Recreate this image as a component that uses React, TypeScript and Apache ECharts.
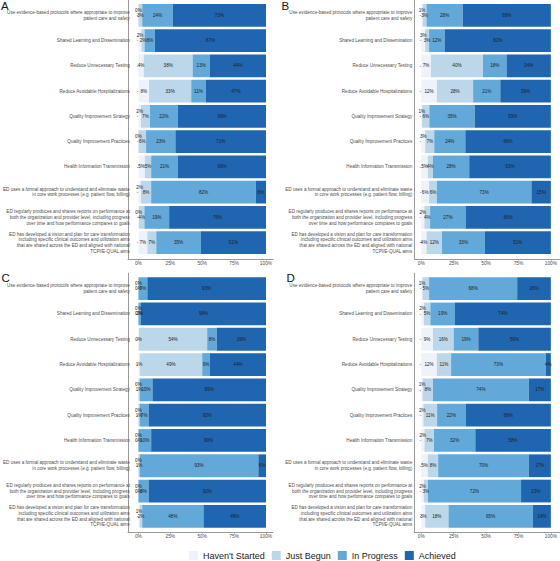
import React, { useEffect, useRef } from "react";
import * as echarts from "echarts";

const CATEGORIES = [
  "Use evidence-based protocols where appropriate to improve\npatient care and safety",
  "Shared Learning and Dissemination",
  "Reduce Unnecessary Testing",
  "Reduce Avoidable Hospitalizations",
  "Quality Improvement Strategy",
  "Quality Improvement Practices",
  "Health Information Transmission",
  "ED uses a formal approach to understand and eliminate waste\nin core work processes (e.g. patient flow, billing)",
  "ED regularly produces and shares reports on performance at\nboth the organization and provider level, including progress\nover time and how performance compares to goals",
  "ED has developed a vision and plan for care transformation\nincluding specific clinical outcomes and utilization aims\nthat are shared across the ED and aligned with national\nTCPI/E-QUAL aims",
];

const SERIES_NAMES = ["Haven't Started", "Just Begun", "In Progress", "Achieved"];
const PANEL_LETTERS = ["A", "B", "C", "D"];
const X_TICKS = [0, 25, 50, 75, 100];

const A_HAVENT = [0, 2.4, 4.2, 8.3, 2, 0, 5, 2, 0.4, 7];
const A_JUST = [3, 2.4, 38.3, 33.1, 7, 6, 5, 8, 4.3, 7];
const A_PROGRESS = [24, 8.1, 13.4, 11.4, 22, 23, 21, 82, 19.4, 35];
const A_ACHIEVED = [73, 87.1, 44.1, 47.2, 69, 71, 69, 8, 75.9, 51];

const B_HAVENT = [1, 3, 7.4, 12, 0.6, 3, 5, 6, 2.4, 4];
const B_JUST = [3, 3, 40.2, 28, 5.6, 7, 4, 6, 4.4, 12];
const B_PROGRESS = [28, 12, 18.2, 21, 35.1, 24, 28, 73, 27.4, 33];
const B_ACHIEVED = [68, 82, 34.2, 39, 58.7, 66, 63, 15, 65.8, 51];

const C_HAVENT = [0, 0, 0.3, 1, 0, 0, 0, 0, 0, 1];
const C_JUST = [0, 0, 53.6, 49, 1, 1, 0, 1, 0, 2];
const C_PROGRESS = [7, 2, 7.6, 6, 10, 7, 10, 93, 8, 48];
const C_ACHIEVED = [93, 98, 38.5, 44, 89, 92, 90, 6, 92, 49];

const D_HAVENT = [1, 2, 9, 12, 1, 1.6, 2.4, 5, 2, 3];
const D_JUST = [5, 5, 16, 11, 8, 10.6, 7.4, 8, 3, 18];
const D_PROGRESS = [68, 19, 19, 73, 74, 22, 31.9, 70, 72, 65];
const D_ACHIEVED = [26, 74, 56, 4, 17, 65.8, 58.3, 17, 23, 14];

const PANEL_VALUES = [
  [A_HAVENT, A_JUST, A_PROGRESS, A_ACHIEVED],
  [B_HAVENT, B_JUST, B_PROGRESS, B_ACHIEVED],
  [C_HAVENT, C_JUST, C_PROGRESS, C_ACHIEVED],
  [D_HAVENT, D_JUST, D_PROGRESS, D_ACHIEVED],
];

const COLORS = ["#eef3fb", "#bdd7ea", "#62a8d8", "#1f65b0"];
const FONT = "Liberation Sans, Arial, Helvetica, sans-serif";

const LAYOUT = [
  {
    bar: { left: 134, top: 2.7, width: 132, height: 252.6 },
    frame: { left: 128, top: 0, width: 145, height: 259.3 },
    yOff: 6, xOff: 4, letter: { x: 1, y: -0.5 },
  },
  {
    bar: { left: 421.3, top: 2.7, width: 132, height: 252.6 },
    frame: { left: 414.7, top: 0, width: 145.3, height: 259.3 },
    yOff: 6.6, xOff: 4, letter: { x: 281.5, y: -0.5 },
  },
  {
    bar: { left: 134, top: 276, width: 132, height: 253 },
    frame: { left: 128, top: 273.3, width: 145, height: 259.2 },
    yOff: 6, xOff: 3.5, letter: { x: 1.5, y: 272 },
  },
  {
    bar: { left: 421.3, top: 276, width: 132, height: 253 },
    frame: { left: 414.7, top: 273.3, width: 145.3, height: 259.2 },
    yOff: 6.6, xOff: 3.5, letter: { x: 286.5, y: 272 },
  },
];

export default function App() {
  const ref = useRef<HTMLDivElement>(null);

  useEffect(() => {
    const chart = echarts.init(ref.current!, null, { renderer: "svg" });

    const grids: any[] = [];
    const xAxes: any[] = [];
    const yAxes: any[] = [];
    const series: any[] = [];

    LAYOUT.forEach((l) => {
      grids.push({ ...l.bar, containLabel: false });
    });
    LAYOUT.forEach((l) => {
      grids.push({ ...l.frame, containLabel: false });
    });

    LAYOUT.forEach((l, p) => {
      xAxes.push({
        type: "value",
        gridIndex: p,
        min: 0,
        max: 100,
        interval: 25,
        position: "bottom",
        offset: l.xOff,
        axisLine: { show: false, onZero: false },
        axisTick: { show: true, length: 1.5, lineStyle: { color: "#8c8c8c", width: 0.6 } },
        axisLabel: {
          show: true,
          formatter: (v: number) => (X_TICKS.includes(v) ? v + "%" : ""),
          fontSize: 4.8,
          color: "#4d4d4d",
          margin: 1.5,
          fontFamily: FONT,
        },
        splitLine: { show: false },
      });
      yAxes.push({
        type: "category",
        gridIndex: p,
        data: CATEGORIES,
        inverse: true,
        position: "left",
        offset: l.yOff,
        axisLine: { show: false },
        axisTick: { show: true, alignWithLabel: true, length: 1.5, lineStyle: { color: "#8c8c8c", width: 0.6 } },
        axisLabel: {
          show: true,
          interval: 0,
          fontSize: 4.6,
          lineHeight: 5.6,
          color: "#4d4d4d",
          margin: 2.5,
          fontFamily: FONT,
        },
        splitLine: { show: false },
      });
    });

    LAYOUT.forEach((l, p) => {
      xAxes.push({
        type: "value",
        gridIndex: 4 + p,
        min: 0,
        max: 1,
        axisLine: { show: true, onZero: false, lineStyle: { color: "#9a9a9a", width: 1 } },
        axisTick: { show: false },
        axisLabel: { show: false },
        splitLine: { show: false },
      });
      yAxes.push({
        type: "value",
        gridIndex: 4 + p,
        min: 0,
        max: 1,
        axisLine: { show: true, onZero: false, lineStyle: { color: "#9a9a9a", width: 1 } },
        axisTick: { show: false },
        axisLabel: { show: false },
        splitLine: { show: false },
      });
    });

    PANEL_VALUES.forEach((vals, p) => {
      vals.forEach((arr, s) => {
        series.push({
          type: "bar",
          name: SERIES_NAMES[s],
          stack: "panel" + p,
          xAxisIndex: p,
          yAxisIndex: p,
          barCategoryGap: "10%",
          silent: true,
          itemStyle: { color: COLORS[s] },
          label: {
            show: true,
            position: "inside",
            formatter: (d: any) => Math.round(d.value) + "%",
            fontSize: 4.6,
            color: "#222",
            fontFamily: FONT,
          },
          emphasis: { disabled: true },
          data: arr.map((v, i) => {
            const shift = s === 0 && v < 3.5 && vals[1][i] < 15;
            return shift ? { value: v, label: { offset: [0, -5] } } : { value: v };
          }),
        });
      });
    });

    const option: any = {
      animation: false,
      textStyle: { fontFamily: FONT },
      grid: grids,
      xAxis: xAxes,
      yAxis: yAxes,
      series,
      legend: {
        data: SERIES_NAMES,
        left: 189,
        top: 551,
        padding: 0,
        itemWidth: 9,
        itemHeight: 9,
        itemGap: 7,
        icon: "rect",
        selectedMode: false,
        textStyle: { fontSize: 9, color: "#1a1a1a", fontFamily: FONT },
      },
      graphic: LAYOUT.map((l, p) => ({
        type: "text",
        x: l.letter.x,
        y: l.letter.y,
        style: {
          text: PANEL_LETTERS[p],
          fontSize: 11.5,
          fontFamily: FONT,
          fill: "#111",
          textVerticalAlign: "top",
        },
      })),
    };

    chart.setOption(option);
    return () => chart.dispose();
  }, []);

  return (
    <div
      ref={ref}
      style={{ position: "absolute", left: 0, top: 0, width: 560, height: 561 }}
    />
  );
}
